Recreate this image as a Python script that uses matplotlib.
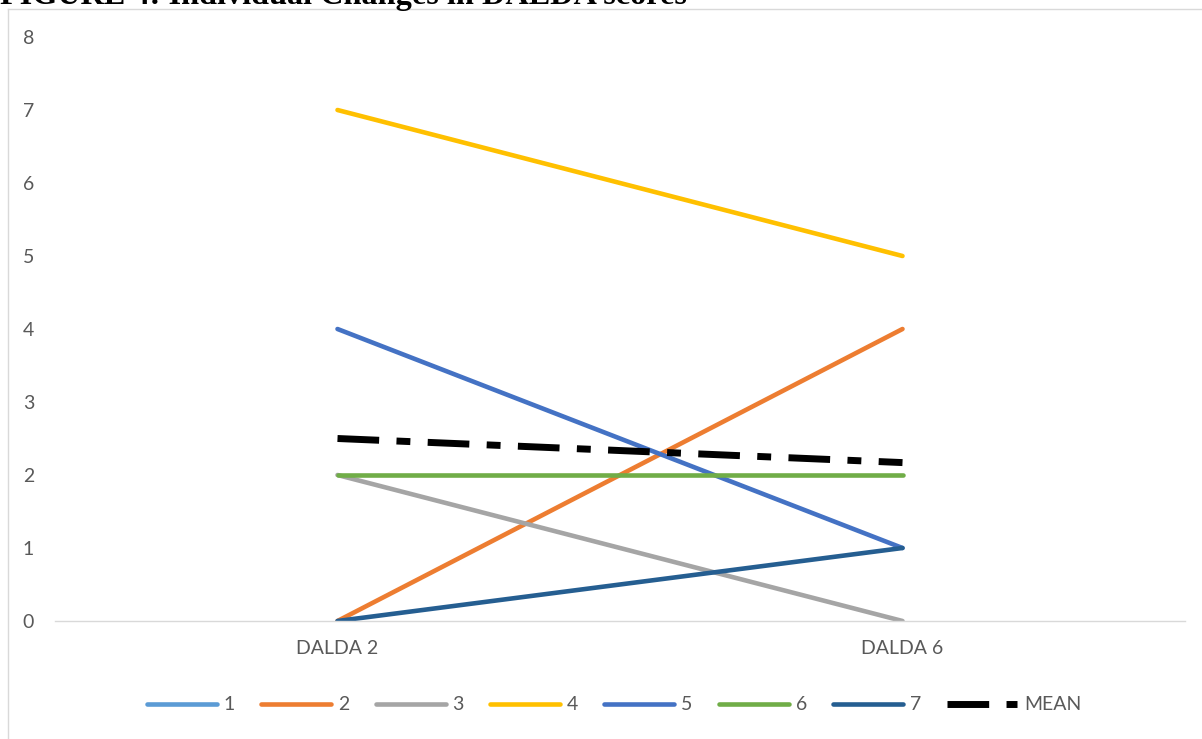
import matplotlib.pyplot as plt
import numpy as np

# DALDA scores per participant at the two time points
categories = ["DALDA 2", "DALDA 6"]
participants = ["1", "2", "3", "4", "5", "6", "7"]
scores = [
    [np.nan, np.nan],  # participant 1 has no scores
    [0, 4],
    [2, 0],
    [7, 5],
    [4, 1],
    [2, 2],
    [0, 1],
]
mean_scores = [2.5, 2.17]

colors = ["#5B9BD5", "#ED7D31", "#A5A5A5", "#FFC000",
          "#4472C4", "#70AD47", "#255E91"]

plt.rcParams['font.family'] = ['Lato', 'DejaVu Sans']

fig = plt.figure(figsize=(12.02, 7.39), dpi=100)
ax = fig.add_axes([55 / 1202, 1 - 621 / 739, 1130 / 1202, 584 / 739])

x = np.arange(len(categories))
for name, vals, c in zip(participants, scores, colors):
    ax.plot(x, vals, color=c, lw=3.3, solid_capstyle='round', label=name)
ax.plot(x, mean_scores, color='black', lw=5, dashes=(6, 2.5, 2, 2.5),
        dash_capstyle='butt', label="MEAN")

ax.set_xlim(-0.5, 1.5)
ax.set_ylim(0, 8)
ax.set_yticks(range(0, 9))
ax.set_xticks(x)
ax.set_xticklabels(categories)
ax.tick_params(axis='both', length=0, labelsize=14, labelcolor='#595959')
ax.tick_params(axis='y', pad=15)
ax.tick_params(axis='x', pad=14)
for side in ['top', 'right', 'left']:
    ax.spines[side].set_visible(False)
ax.spines['bottom'].set_color('#D9D9D9')
ax.spines['bottom'].set_linewidth(1)

fig.legend(loc='center', bbox_to_anchor=(0.511, 1 - 705 / 739), ncol=8,
           frameon=False, fontsize=14, labelcolor='#595959',
           handlelength=3.6, columnspacing=1.35, handletextpad=0.35)

# outer chart border
fig.add_artist(plt.Line2D([8 / 1202, 8 / 1202], [0, 1 - 9 / 739],
                          transform=fig.transFigure, color='#D9D9D9', lw=1))
fig.add_artist(plt.Line2D([8 / 1202, 1], [1 - 9 / 739, 1 - 9 / 739],
                          transform=fig.transFigure, color='#D9D9D9', lw=1))

# heading sits above the chart, partly cropped by the page edge
fig.text(0.0, 1 - 4 / 739, "FIGURE 4: Individual Changes in DALDA scores",
         family='Liberation Serif', weight='bold', fontsize=23.2,
         va='baseline', ha='left')

fig.savefig("out.png", dpi=100)
